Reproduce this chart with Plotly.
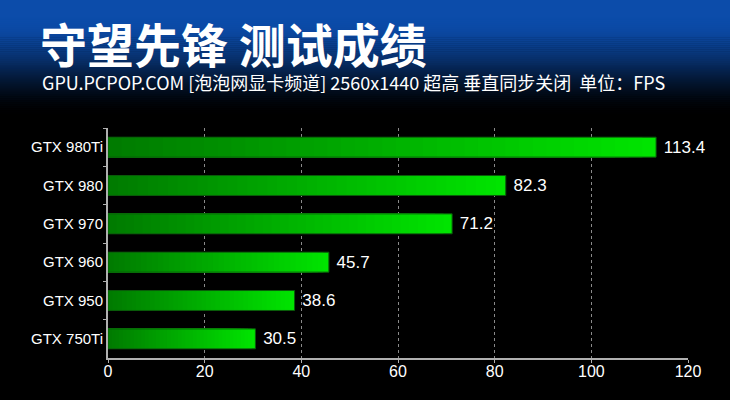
import plotly.graph_objects as go

# ---- data ----
gpus = ["GTX 980Ti", "GTX 980", "GTX 970", "GTX 960", "GTX 950", "GTX 750Ti"]
fps = [113.4, 82.3, 71.2, 45.7, 38.6, 30.5]
x_ticks = [0, 20, 40, 60, 80, 100, 120]
title_text = "守望先锋 测试成绩"
subtitle_text = "GPU.PCPOP.COM [泡泡网显卡频道] 2560x1440 超高 垂直同步关闭  单位：FPS"

W, H = 730, 400
L, R, T, B = 108, 42, 128, 42
pw, ph = W - L - R, H - T - B

fig = go.Figure()

# gradient bars: overlay bars of decreasing length, bright -> dark
N = 40
dark = (0, 122, 0)
bright = (0, 230, 0)
for k in range(N):
    f = (N - k) / N
    t = (N - k - 0.5) / N
    c = tuple(int(dark[i] + (bright[i] - dark[i]) * t) for i in range(3))
    fig.add_trace(go.Bar(
        y=gpus, x=[v * f for v in fps], orientation="h",
        marker=dict(color="rgb(%d,%d,%d)" % c, line=dict(width=0)),
        width=0.52, hoverinfo="skip", showlegend=False,
    ))
# outline + value labels
fig.add_trace(go.Bar(
    y=gpus, x=fps, orientation="h",
    marker=dict(color="rgba(0,0,0,0)", line=dict(color="#0a5a0a", width=1)),
    width=0.52, showlegend=False,
    text=[f" {v:.1f}" for v in fps], textposition="outside",
    textfont=dict(color="white", size=17, family="Liberation Sans, Arial"),
    cliponaxis=False,
))

# header gradient (blue -> black)
shapes = []
top_blue = (12, 76, 170)
strips = 60
hh = 118
for i in range(strips):
    py0 = hh * i / strips
    py1 = hh * (i + 1) / strips + 0.5
    t = (py0 + py1) / 2 / hh
    s = max(0.0, (t - 0.15) / 0.85)
    fac = 1 - (s * s * (3 - 2 * s))
    c = tuple(int(v * fac) for v in top_blue)
    shapes.append(dict(
        type="rect", xref="paper", yref="paper", layer="below",
        x0=-L / pw, x1=(W - L) / pw,
        y0=(H - B - py1) / ph, y1=(H - B - py0) / ph,
        fillcolor="rgb(%d,%d,%d)" % c, line=dict(width=0),
    ))

annotations = [
    dict(text="<b>" + title_text + "</b>", xref="paper", yref="paper",
         x=(38 - L) / pw, y=(H - B - 43) / ph, xanchor="left", yanchor="middle",
         showarrow=False, font=dict(size=47, color="white", family="Noto Sans CJK SC")),
    dict(text=subtitle_text, xref="paper", yref="paper",
         x=(40 - L) / pw, y=(H - B - 82) / ph, xanchor="left", yanchor="middle",
         showarrow=False, font=dict(size=18, color="white", family="Noto Sans CJK SC")),
]

fig.update_layout(
    width=W, height=H, margin=dict(l=L, r=R, t=T, b=B),
    paper_bgcolor="black", plot_bgcolor="rgba(0,0,0,0)",
    barmode="overlay", bargap=0.48,
    shapes=shapes, annotations=annotations,
    showlegend=False,
    xaxis=dict(range=[0, 120], tickvals=x_ticks, showgrid=True,
               gridcolor="#8a8a8a", griddash="dot", gridwidth=1,
               showline=True, linecolor="#b0b0b0", linewidth=2,
               ticks="outside", ticklen=3, tickcolor="#b0b0b0",
               ticklabelstandoff=-5,
               tickfont=dict(color="white", size=16, family="Liberation Sans Narrow, Liberation Sans"),
               zeroline=False, fixedrange=True),
    yaxis=dict(categoryorder="array", categoryarray=gpus, autorange="reversed",
               showline=True, linecolor="#b0b0b0", linewidth=2,
               ticks="outside", ticklen=3, tickcolor="#b0b0b0", tickson="boundaries",
               showgrid=False,
               tickfont=dict(color="white", size=15, family="Liberation Sans, Arial"),
               fixedrange=True),
)

fig.write_html("out.html", config={"displayModeBar": False},
               post_script="document.body.style.margin='0';document.body.style.background='black';")
